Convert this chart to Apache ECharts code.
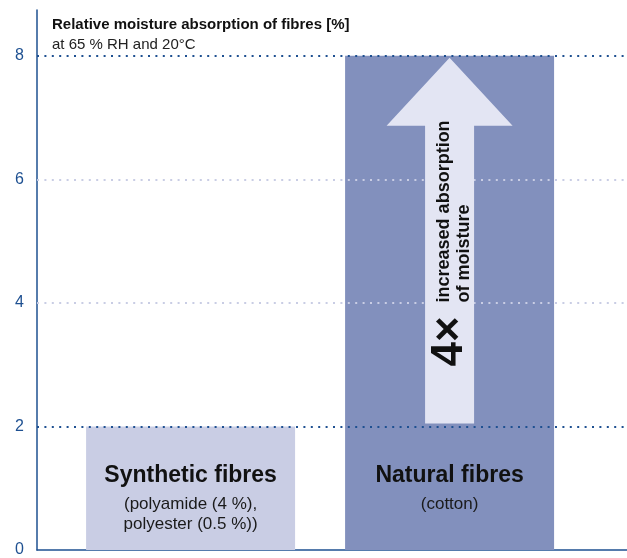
<!DOCTYPE html>
<html>
<head>
<meta charset="utf-8">
<script src="https://cdn.jsdelivr.net/npm/echarts@6/dist/echarts.min.js"></script>
<style>
  html, body { margin: 0; padding: 0; background: #fff; }
  #chart { width: 627px; height: 558px; }
</style>
</head>
<body>
<div id="chart"></div>
<script>
// Fibre groups and their moisture absorption (%)
const categories = ['Synthetic fibres', 'Natural fibres'];
const categoryNotes = [['(polyamide (4 %),', 'polyester (0.5 %))'], ['(cotton)']];
const absorption = [2, 8];
const yTicks = [0, 2, 4, 6, 8];
// Reference lines: dark at the two bar levels, light in between
const strongLines = [2, 8];
const faintLines = [4, 6];
// Arrow from the synthetic level up to the natural level
const arrowSpan = [2, 8];
const arrowFactor = '4\u00d7';
const arrowCaption = ['increased absorption', 'of moisture'];

const FONT = 'Liberation Sans, Arial, Helvetica, sans-serif';
const DARK_BLUE = '#1e5091';
const BAR_COLORS = ['#c9cde4', '#8290bd'];
const ARROW_FILL = '#e3e5f3';

const chart = echarts.init(document.getElementById('chart'), null, { renderer: 'canvas' });

const barData = absorption.map((v, i) => ({
  value: [i, v],
  itemStyle: { color: BAR_COLORS[i] },
  label: {
    formatter: ['{t|' + categories[i] + '}'].concat(categoryNotes[i].map(s => '{s|' + s + '}')).join('\n')
  }
}));

const markLines = strongLines.map(v => ({
  yAxis: v,
  lineStyle: { color: DARK_BLUE, width: 2, type: [2, 5.4] }
})).concat(faintLines.map(v => ({
  yAxis: v,
  lineStyle: { color: '#c9cde4', width: 2, type: [2, 5.4] }
})));

function renderArrow(params, api) {
  const idx = api.value(0);
  const lo = api.coord([idx, api.value(1)]);
  const hi = api.coord([idx, api.value(2)]);
  const cx = lo[0];
  const tip = hi[1] + 2;
  const headBase = tip + 68;
  const bottom = lo[1] - 3;
  const headHalf = 63, shaftHalf = 24.5;
  const textStyle = (text, size) => ({
    text: text, fill: '#111', fontSize: size, fontWeight: 'bold', fontFamily: FONT,
    align: 'left', verticalAlign: 'middle', textAlign: 'left', textVerticalAlign: 'middle'
  });
  return {
    type: 'group',
    children: [
      {
        type: 'polygon',
        shape: { points: [
          [cx, tip], [cx + headHalf, headBase], [cx + shaftHalf, headBase],
          [cx + shaftHalf, bottom], [cx - shaftHalf, bottom], [cx - shaftHalf, headBase],
          [cx - headHalf, headBase]
        ] },
        style: { fill: ARROW_FILL }
      },
      { type: 'text', x: cx + 0.5, y: bottom - 57, rotation: Math.PI / 2, style: textStyle(arrowFactor, 44) },
      { type: 'text', x: cx - 5.5, y: bottom - 121, rotation: Math.PI / 2, style: textStyle(arrowCaption[0], 18) },
      { type: 'text', x: cx + 14.5, y: bottom - 121, rotation: Math.PI / 2, style: textStyle(arrowCaption[1], 18) }
    ]
  };
}

chart.setOption({
  animation: false,
  backgroundColor: '#fff',
  title: {
    left: 47, top: 11,
    text: 'Relative moisture absorption of fibres [%]',
    subtext: 'at 65 % RH and 20\u00b0C',
    itemGap: 3,
    textStyle: { fontFamily: FONT, fontSize: 15, fontWeight: 'bold', color: '#111', lineHeight: 17 },
    subtextStyle: { fontFamily: FONT, fontSize: 15, color: '#222', lineHeight: 17 }
  },
  grid: { left: 37, right: 0, top: 10, bottom: 4, containLabel: false },
  xAxis: {
    type: 'value',
    min: -0.593, max: 1.685,
    axisLine: { show: true, onZero: true, lineStyle: { color: DARK_BLUE, width: 1.5 } },
    axisTick: { show: false },
    axisLabel: { show: false },
    splitLine: { show: false }
  },
  yAxis: {
    type: 'value',
    min: 0, max: 8.74, interval: 2,
    axisLine: { show: true, onZero: false, lineStyle: { color: DARK_BLUE, width: 1.5 } },
    axisTick: { show: false },
    splitLine: { show: false },
    axisLabel: {
      color: DARK_BLUE, fontSize: 16, fontFamily: FONT, margin: 13,
      formatter: v => (yTicks.indexOf(v) >= 0 ? String(v) : '')
    }
  },
  series: [
    {
      type: 'bar',
      barWidth: 209,
      z: 2,
      data: barData,
      label: {
        show: true,
        position: ['50%', '100%'],
        offset: [0, -92],
        align: 'center',
        verticalAlign: 'top',
        rich: {
          t: { fontFamily: FONT, fontSize: 23, fontWeight: 'bold', color: '#111', lineHeight: 36, align: 'center' },
          s: { fontFamily: FONT, fontSize: 17, color: '#1a1a1a', lineHeight: 20, align: 'center' }
        }
      },
      markLine: {
        silent: true,
        symbol: 'none',
        label: { show: false },
        z: 3,
        data: markLines
      }
    },
    {
      type: 'custom',
      z: 5,
      silent: true,
      renderItem: renderArrow,
      encode: { x: 0, y: [1, 2] },
      data: [[1, arrowSpan[0], arrowSpan[1]]]
    }
  ]
});
</script>
</body>
</html>
